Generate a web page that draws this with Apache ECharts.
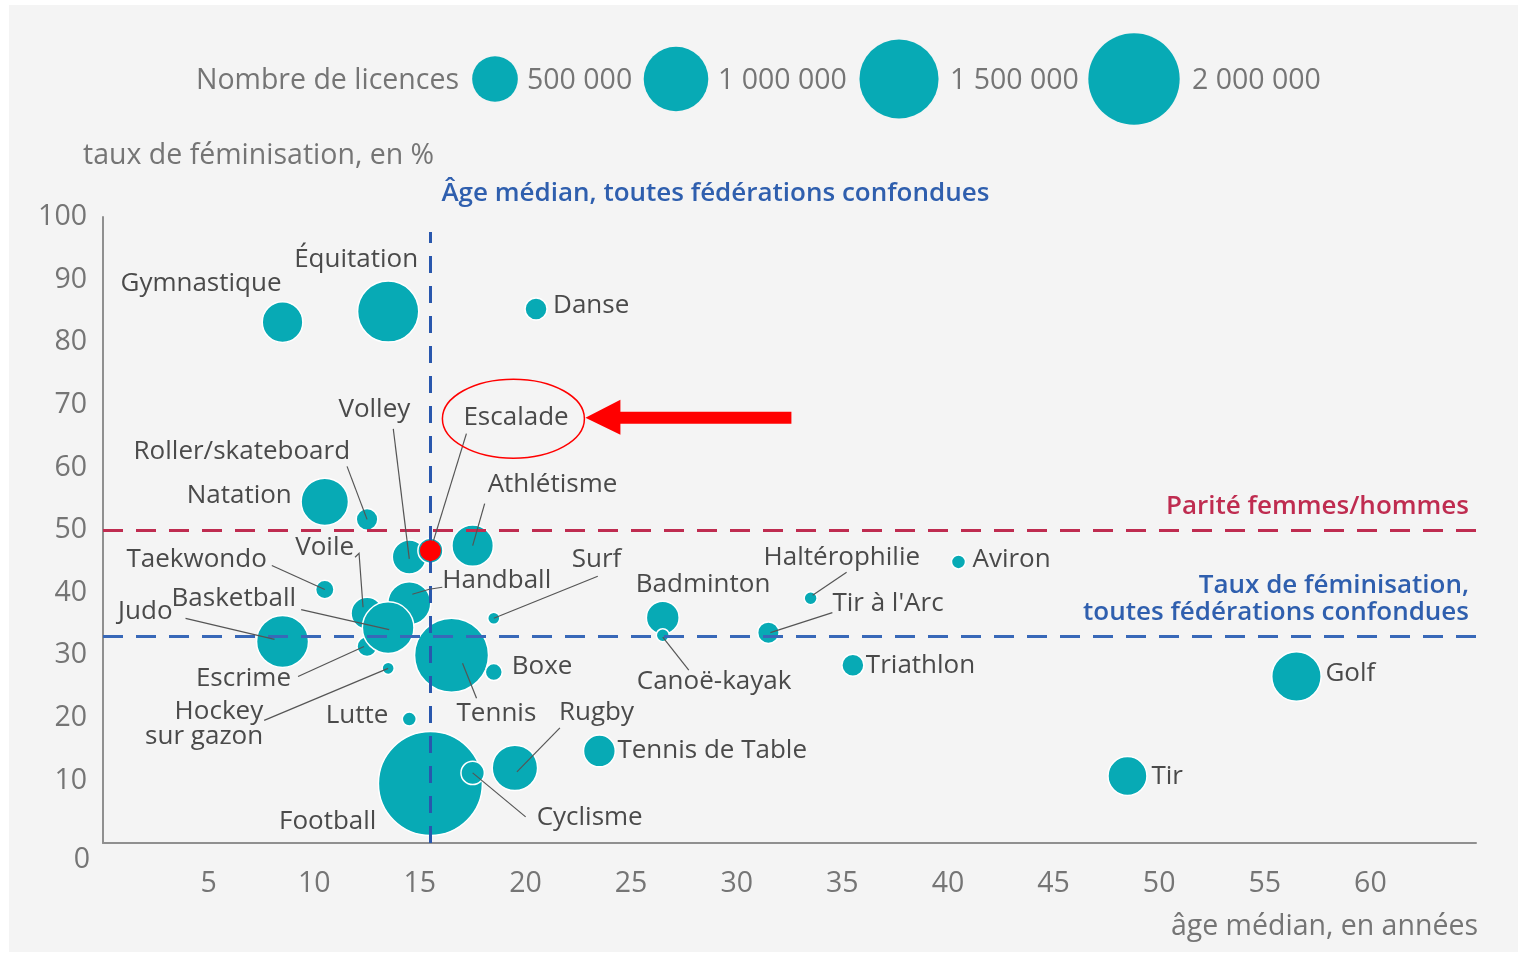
<!DOCTYPE html>
<html><head><meta charset="utf-8">
<script src="https://cdn.jsdelivr.net/npm/echarts@6/dist/echarts.min.js"></script>
<style>html,body{margin:0;padding:0;background:#fff}#c{width:1518px;height:954px}</style>
</head><body><div id="c"></div>
<script>
// ---------- DATA ----------
const sports = ['Football','Tennis','Équitation','Judo','Handball','Voile','Escrime','Basketball','Golf','Natation','Rugby','Athlétisme','Gymnastique','Tir','Volley','Badminton','Tennis de Table','Escalade','Cyclisme','Danse','Triathlon','Roller/skateboard',"Tir à l'Arc",'Taekwondo','Boxe','Lutte','Aviron','Canoë-kayak','Haltérophilie','Hockey sur gazon','Surf'];
const ageMedian = [15.5,16.5,13.5,8.5,14.5,12.5,12.5,13.5,56.5,10.5,19.5,17.5,8.5,48.5,14.5,26.5,23.5,15.5,17.5,20.5,35.5,12.5,31.5,10.5,18.5,14.5,40.5,26.5,33.5,13.5,18.5];
const tauxFem = [9.5,30.0,84.9,32.2,38.3,36.7,31.4,34.4,26.6,54.5,12.0,47.5,83.2,10.7,45.7,36.0,14.7,46.7,11.2,85.3,28.4,51.7,33.6,40.5,27.3,19.8,44.9,33.2,39.1,27.9,35.9];
const licences = [2592000,1312000,897000,648000,443000,245000,96000,638000,585000,538000,494000,411000,395000,364000,277000,258000,242000,150000,131000,116000,116000,112000,110000,81000,69000,47000,47000,40000,40000,35000,35000];
const legendValues = [500000,1000000,1500000,2000000];
const legendLabels = ['500 000','1 000 000','1 500 000','2 000 000'];
const parityRate = 50;          // %
const overallFemRate = 33.1;    // %
const overallMedianAge = 15.5;  // years
const highlighted = 'Escalade';

// ---------- STYLE / LAYOUT ----------
const FONT = '"Open Sans", "Noto Sans", sans-serif';
const TEAL = '#07aab5';
const BLUE = '#2f5fae';
const RED = '#bf2c50';
const GREY_TXT = '#757575';
const LABEL_TXT = '#4a4a4a';
const GREY_SIZE = 28.5;
const sizeFn = n => 2 * 32.3 * Math.sqrt(n / 1e6);

const labelPlacement = {
 'Gymnastique': {dx:-1, dy:-39, align:'right'},
 'Équitation': {dx:30, dy:-52, align:'right'},
 'Danse': {dx:17, dy:-3, align:'left'},
 'Volley': {dx:1, dy:-147, align:'right', line:[[-16,-128],[0,2]]},
 'Escalade': {dx:33, dy:-133, align:'left', line:[[36,-117],[0,0]]},
 'Roller/skateboard': {dx:-17, dy:-68, align:'right', line:[[-20,-53],[0,0]]},
 'Natation': {dx:-33, dy:-6, align:'right'},
 'Athlétisme': {dx:15, dy:-61, align:'left', line:[[12,-42],[0,0]]},
 'Voile': {dx:-13, dy:-66, align:'right', line:[[-12,-56],[-8,-60],[-4,-6]]},
 'Taekwondo': {dx:-58, dy:-30, align:'right', line:[[-53,-24],[0,0]]},
 'Handball': {dx:33, dy:-23, align:'left', line:[[33,-16],[20,-14],[3,-9]]},
 'Basketball': {dx:-92, dy:-29, align:'right', line:[[-87,-18],[1,2]]},
 'Judo': {dx:-110, dy:-30, align:'right', line:[[-97,-23],[-8,-2]]},
 'Escrime': {dx:-76, dy:32, align:'right', line:[[-69,30],[-3,0]]},
 'Hockey sur gazon': {text:'Hockey\nsur gazon', dx:-125, dy:56, align:'right', line:[[-124,52],[0,0]]},
 'Lutte': {dx:-21, dy:-3, align:'right'},
 'Tennis': {dx:5, dy:58, align:'left', line:[[25,43],[11,8]]},
 'Boxe': {dx:18, dy:-6, align:'left'},
 'Surf': {dx:78, dy:-59, align:'left', line:[[104,-42],[0,0]]},
 'Rugby': {dx:44, dy:-55, align:'left', line:[[45,-40],[2,4]]},
 'Cyclisme': {dx:64, dy:45, align:'left', line:[[53,44],[0,0]]},
 'Football': {dx:-54, dy:38, align:'right'},
 'Tennis de Table': {dx:18, dy:0, align:'left'},
 'Badminton': {dx:-27, dy:-33, align:'left'},
 'Canoë-kayak': {dx:-26, dy:46, align:'left', line:[[26,35],[0,2]]},
 'Haltérophilie': {dx:-47, dy:-41, align:'left', line:[[36,-26],[2,-3]]},
 "Tir à l'Arc": {dx:64, dy:-29, align:'left', line:[[64,-20],[2,0]]},
 'Aviron': {dx:14, dy:-2, align:'left'},
 'Triathlon': {dx:13, dy:0, align:'left'},
 'Golf': {dx:29, dy:-3, align:'left'},
 'Tir': {dx:24, dy:1, align:'left'}
};

const bubbleData = sports.map((s,i) => ({name:s, value:[ageMedian[i], tauxFem[i], licences[i]]}));
const hi = sports.indexOf(highlighted);

const chart = echarts.init(document.getElementById('c'), null, {renderer:'canvas'});
const axisLabelStyle = {fontFamily:FONT, fontSize:GREY_SIZE, color:GREY_TXT};

const option = {
  backgroundColor:'#ffffff',
  animation:false,
  grid:{left:103, top:217, right:42, bottom:111, containLabel:false},
  xAxis:{type:'value', min:0, max:65, interval:5,
    axisLine:{show:true, lineStyle:{color:'#8f8f8f', width:2}},
    axisTick:{show:false}, splitLine:{show:false},
    axisLabel:Object.assign({showMinLabel:false, showMaxLabel:false, margin:26}, axisLabelStyle)},
  yAxis:{type:'value', min:0, max:100, interval:10,
    axisLine:{show:true, lineStyle:{color:'#8f8f8f', width:2}},
    axisTick:{show:false}, splitLine:{show:false},
    axisLabel:Object.assign({margin:16,
      formatter: v => v === 0 ? '{z|0}' : String(v),
      rich:{z:{padding:[34,-3,0,0], fontFamily:FONT, fontSize:GREY_SIZE, color:GREY_TXT}}}, axisLabelStyle)},
  series:[
    {type:'scatter', name:'bubbles', data:bubbleData, z:2,
     symbolSize: v => sizeFn(v[2]),
     itemStyle:{color:TEAL, opacity:1, borderColor:'#ffffff', borderWidth:1.5},
     emphasis:{disabled:true},
     markLine:{silent:true, symbol:'none', z:5, label:{show:false},
       data:[
         {yAxis:parityRate, lineStyle:{color:RED, type:[20,13], width:3}},
         {yAxis:overallFemRate, lineStyle:{color:'#3868b8', type:[20,13], width:3}},
         [{coord:[overallMedianAge,0], lineStyle:{color:'#2957ad', type:[17,13], width:3}}, {coord:[overallMedianAge,97.6]}]
       ]}},
    {type:'custom', name:'labels', z:6, clip:false,
     data: sports.map((s,i)=>[ageMedian[i], tauxFem[i]]),
     renderItem:(params, api) => {
       const name = sports[params.dataIndex];
       const L = labelPlacement[name];
       const p = api.coord([api.value(0), api.value(1)]);
       const children = [];
       if (L.line) {
         children.push({type:'polyline', shape:{points:L.line.map(q=>[p[0]+q[0], p[1]+q[1]])},
           style:{stroke:'#555', lineWidth:1.2, fill:null}});
       }
       children.push({type:'text', x:p[0]+L.dx, y:p[1]+L.dy,
         style:{text:L.text || name, align:L.align, verticalAlign:'middle',
           fontFamily:FONT, fontSize:26, fill:LABEL_TXT, lineHeight:25}});
       return {type:'group', children};
     }},
    {type:'scatter', name:'highlight', z:10, symbolSize:21,
     data:[[ageMedian[hi], tauxFem[hi]]],
     itemStyle:{color:'#ff0000', opacity:1}, emphasis:{disabled:true}}
  ]
};
chart.setOption(option);

// ---------- annotations / legend (graphic) ----------
const px = v => chart.convertToPixel({gridIndex:0}, v);
const txt = (text, x, y, align, fill, weight, size) => ({type:'text', x, y, silent:true,
  style:{text, align, verticalAlign:'middle', fontFamily:FONT, fontSize:size||26, fontWeight:weight||'normal', fill}});

const g = [];
g.push({type:'rect', z:-100, silent:true, shape:{x:9, y:5, width:1509, height:947}, style:{fill:'#f4f4f4'}});
// legend
g.push(txt('Nombre de licences', 459, 81, 'right', GREY_TXT, 'normal', GREY_SIZE));
const legCx = [495, 676, 899, 1134];
const legTx = [527, 718, 950, 1192];
legendValues.forEach((v,i)=>{
  g.push({type:'circle', silent:true, shape:{cx:legCx[i], cy:79, r:sizeFn(v)/2}, style:{fill:TEAL}});
  g.push(txt(legendLabels[i], legTx[i], 81, 'left', GREY_TXT, 'normal', GREY_SIZE));
});
// axis titles
g.push(txt('taux de féminisation, en %', 83, 156, 'left', GREY_TXT, 'normal', GREY_SIZE));
const xEnd = px([65, 0]);
g.push(txt('âge médian, en années', xEnd[0] + 2, xEnd[1] + 84, 'right', GREY_TXT, 'normal', GREY_SIZE));
// reference line captions
const vTop = px([overallMedianAge, 97.6]);
g.push(txt('Âge médian, toutes fédérations confondues', vTop[0] + 11, vTop[1] - 38, 'left', BLUE, 600));
const pr = px([65, parityRate]);
g.push(txt('Parité femmes/hommes', pr[0] - 7, pr[1] - 23, 'right', RED, 600));
const fr = px([65, overallFemRate]);
g.push({type:'text', x:fr[0]-7, y:fr[1]-10, silent:true,
  style:{text:'Taux de féminisation,\ntoutes fédérations confondues', align:'right', verticalAlign:'bottom',
    fontFamily:FONT, fontSize:26, fontWeight:600, fill:BLUE, lineHeight:27}});
// highlight annotation: ellipse round the label + arrow
const e = px([ageMedian[hi], tauxFem[hi]]);
const L = labelPlacement[highlighted];
const ecx = e[0] + L.dx + 50, ecy = e[1] + L.dy + 1;
g.push({type:'ellipse', silent:true, z:20, shape:{cx:ecx, cy:ecy, rx:71, ry:39.5}, style:{fill:null, stroke:'#ff0000', lineWidth:1.5}});
const tipX = ecx + 72, tipY = ecy - 1;
g.push({type:'polygon', silent:true, z:20, shape:{points:[
  [tipX, tipY], [tipX+35, tipY-18], [tipX+35, tipY-6], [tipX+206, tipY-6],
  [tipX+206, tipY+6], [tipX+35, tipY+6], [tipX+35, tipY+17]]}, style:{fill:'#ff0000'}});
chart.setOption({graphic:{elements:g}});
</script>
</body></html>
